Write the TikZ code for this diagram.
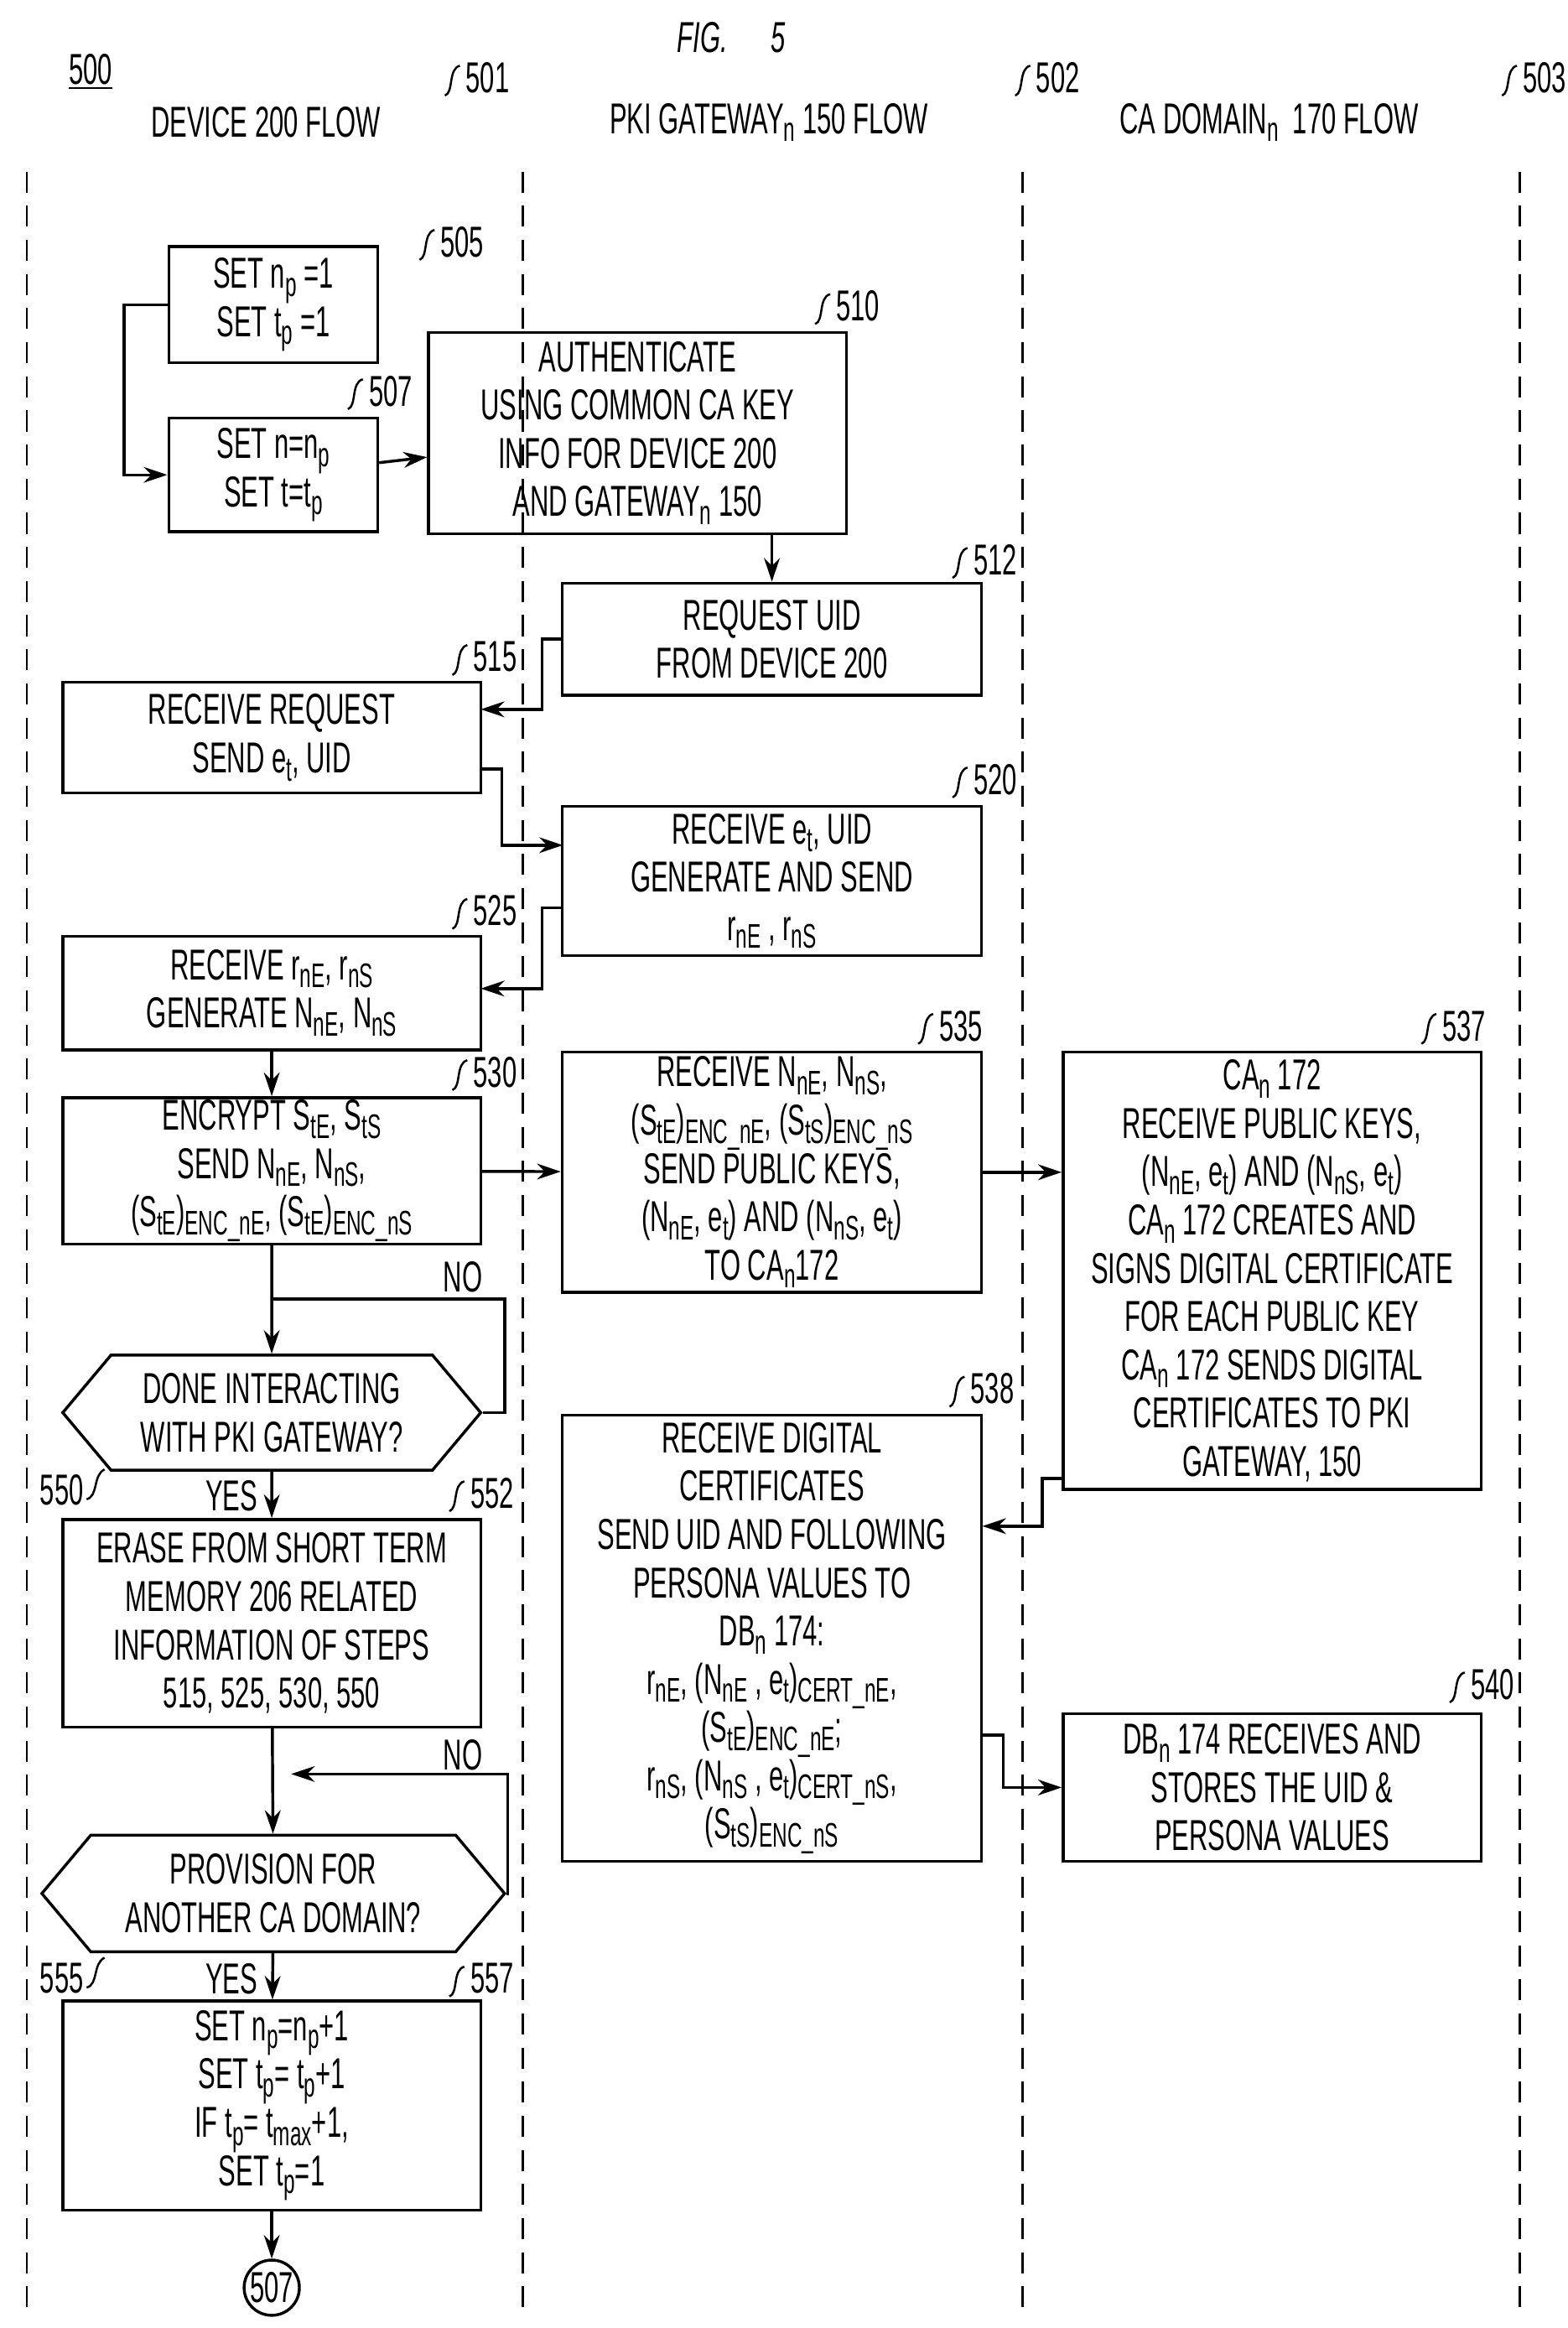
\documentclass[tikz,border=0pt]{standalone}
\usepackage{fontspec}
\setmainfont[FakeStretch=0.6]{Liberation Sans}
\usetikzlibrary{shapes.symbols,arrows.meta}
\newcommand\lo[1]{\raisebox{-.35ex}{\fontsize{13}{13}\selectfont #1}}
\tikzset{
  box/.style={draw, line width=1.1pt, align=center, inner sep=0pt},
  hexa/.style={draw, line width=1.1pt, align=center, inner sep=0pt,
    shape=signal, signal to=east and west, signal pointer angle=100},
  flow/.style={line width=1.1pt, -{Stealth[length=9pt,width=6pt]}},
  lane/.style={line width=0.9pt, dash pattern=on 8pt off 5pt},
  txt/.style={font=\fontsize{16.5}{18.4}\selectfont}
}
\begin{document}
\begin{tikzpicture}[x=0.02cm,y=-0.02cm,txt]
\useasboundingbox (0,0) rectangle (1050,1559);
% Headings
\node (fig) at (490,25) {\itshape FIG.\quad 5};
\node[anchor=west] (num) at (40,48) {\underline{500}};
\node (h1) at (178,82) {DEVICE 200 FLOW};
\node (h2) at (515,82) {PKI GATEWAY\lo{n} 150 FLOW};
\node (h3) at (850,82) {CA DOMAIN\lo{n}\ \ 170 FLOW};
% Lanes
\foreach \x in {18,350,685,1018}
  \draw[lane] (\x,115) -- (\x,1552);
% Boxes
\node[box,minimum width=2.8cm,minimum height=1.56cm] (s505) at (183,204) {SET n\lo{p} =1\\SET t\lo{p} =1};
\node[box,minimum width=2.8cm,minimum height=1.52cm] (s507) at (183,318) {SET n=n\lo{p}\\SET t=t\lo{p}};
\node[box,minimum width=5.6cm,minimum height=2.7cm] (s510) at (427,290) {AUTHENTICATE\\USING COMMON CA KEY\\INFO FOR DEVICE 200\\AND GATEWAY\lo{n} 150};
\node[box,minimum width=5.62cm,minimum height=1.5cm] (s512) at (517,428) {REQUEST UID\\FROM DEVICE 200};
\node[box,minimum width=5.6cm,minimum height=1.48cm] (s515) at (182,494) {RECEIVE REQUEST\\SEND e\lo{t}, UID};
\node[box,minimum width=5.62cm,minimum height=2cm] (s520) at (517,590) {RECEIVE e\lo{t}, UID\\GENERATE AND SEND\\r\lo{nE} , r\lo{nS}};
\node[box,minimum width=5.6cm,minimum height=1.52cm] (s525) at (182,665) {RECEIVE r\lo{nE}, r\lo{nS}\\GENERATE N\lo{nE}, N\lo{nS}};
\node[box,minimum width=5.6cm,minimum height=1.96cm] (s530) at (182,784) {ENCRYPT S\lo{tE}, S\lo{tS}\\SEND N\lo{nE}, N\lo{nS},\\(S\lo{tE})\lo{ENC\_nE}, (S\lo{tE})\lo{ENC\_nS}};
\node[box,minimum width=5.62cm,minimum height=3.22cm] (s535) at (517,785) {RECEIVE N\lo{nE}, N\lo{nS},\\(S\lo{tE})\lo{ENC\_nE}, (S\lo{tS})\lo{ENC\_nS}\\SEND PUBLIC KEYS,\\(N\lo{nE}, e\lo{t}) AND (N\lo{nS}, e\lo{t})\\TO CA\lo{n}172};
\node[box,minimum width=5.6cm,minimum height=5.86cm] (s537) at (852,851) {CA\lo{n} 172\\RECEIVE PUBLIC KEYS,\\(N\lo{nE}, e\lo{t}) AND (N\lo{nS}, e\lo{t})\\CA\lo{n} 172 CREATES AND\\SIGNS DIGITAL CERTIFICATE\\FOR EACH PUBLIC KEY\\CA\lo{n} 172 SENDS DIGITAL\\CERTIFICATES TO PKI\\GATEWAY, 150};
\node[hexa,minimum width=5.6cm,minimum height=1.54cm] (s550) at (182,946) {DONE INTERACTING\\WITH PKI GATEWAY?};
\node[box,minimum width=5.6cm,minimum height=2.78cm] (s552) at (182,1087) {ERASE FROM SHORT TERM\\MEMORY 206 RELATED\\INFORMATION OF STEPS\\515, 525, 530, 550};
\node[box,minimum width=5.62cm,minimum height=5.98cm] (s538) at (517,1097) {RECEIVE DIGITAL\\CERTIFICATES\\SEND UID AND FOLLOWING\\PERSONA VALUES TO\\DB\lo{n} 174:\\r\lo{nE}, (N\lo{nE} , e\lo{t})\lo{CERT\_nE},\\(S\lo{tE})\lo{ENC\_nE};\\r\lo{nS}, (N\lo{nS} , e\lo{t})\lo{CERT\_nS},\\(S\lo{tS})\lo{ENC\_nS}};
\node[box,minimum width=5.6cm,minimum height=1.98cm] (s540) at (852,1197) {DB\lo{n} 174 RECEIVES AND\\STORES THE UID \&\\PERSONA VALUES};
\node[hexa,minimum width=6.2cm,minimum height=1.56cm] (s555) at (183,1268) {PROVISION FOR\\ANOTHER CA DOMAIN?};
\node[box,minimum width=5.6cm,minimum height=2.8cm] (s557) at (182,1410) {SET n\lo{p}=n\lo{p}+1\\SET t\lo{p}= t\lo{p}+1\\IF t\lo{p}= t\lo{max}+1,\\SET t\lo{p}=1};
\node[draw,circle,line width=1.1pt,inner sep=0pt,minimum size=0.74cm] (c507) at (182,1532) {507};
% Step numbers
\foreach \x/\y/\t in {293/162/505,245/262/507,558/205/510,650/375/512,315/440/515,
  650/522/520,315/610/525,315/718/530,627/687/535,964/687/537,648/930/538,
  983/1128/540,313/1000/552,313/1325/557,310/52/501,692/52/502,1018/52/503}{
  \node[anchor=west,inner sep=1pt] (n\t) at (\x,\y) {\t};
  \draw[line width=0.8pt] (\x-12,\y+12) .. controls (\x-6,\y+10) and (\x-10,\y-6) .. (\x-2,\y-8);
}
\foreach \y/\t in {998/550,1325/555}{
  \node[anchor=east,inner sep=1pt] (n\t) at (58,\y) {\t};
  \draw[line width=0.8pt] (58,\y+6) .. controls (66,\y+4) and (62,\y-10) .. (70,\y-14);
}
% Connectors
\draw[flow] (s505.west) -- (83,204) |- (s507.west);
\draw[flow] (s507) -- (s510);
\draw[flow] (s510.south -| s512) -- (s512);
\draw[flow] (s512.west) -- (363,428) |- (322,475);
\draw[flow] (322,515) -- (336,515) |- (377,566);
\draw[flow] (377,608) -- (363,608) |- (322,662);
\draw[flow] (s525) -- (s530);
\draw[flow] (s530) -- (s535);
\draw[flow] (s535.east) -- (s535.east -| s537.west);
\draw[flow] (s530) -- (s550);
\draw[line width=1.1pt] (s550.east) -- (338,946) |- (182,870);
\node (no1) at (310,855) {NO};
\draw[flow] (s550) -- (s552);
\node (yes1) at (155,1002) {YES};
\draw[flow] (712,990) -- (698,990) |- (658,1022);
\draw[flow] (658,1162) -- (672,1162) |- (s540.west);
\draw[flow] (s552) -- (s555);
\draw[flow] (s555.east) -- (340,1268) |- (195,1188);
\node (no2) at (310,1175) {NO};
\draw[flow] (s555) -- (s557);
\node (yes2) at (155,1325) {YES};
\draw[flow] (s557) -- (c507);
\end{tikzpicture}
\end{document}
